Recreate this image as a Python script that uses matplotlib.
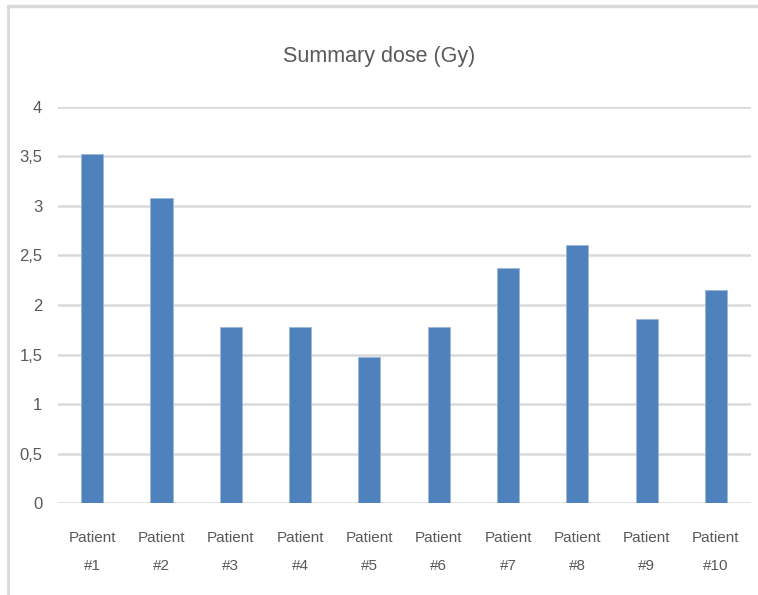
import matplotlib
matplotlib.use("Agg")
import matplotlib.pyplot as plt
from matplotlib.ticker import FuncFormatter, MultipleLocator
from matplotlib.lines import Line2D

plt.rcParams["font.family"] = ["Liberation Sans", "DejaVu Sans"]

PATIENTS = ["Patient\n#1", "Patient\n#2", "Patient\n#3", "Patient\n#4", "Patient\n#5",
            "Patient\n#6", "Patient\n#7", "Patient\n#8", "Patient\n#9", "Patient\n#10"]
DOSE_GY = [3.53, 3.08, 1.78, 1.78, 1.47, 1.78, 2.37, 2.61, 1.86, 2.15]

BAR_COLOR = "#4F81BD"
TEXT_COLOR = "#595959"
GRID_COLOR = "#D9D9D9"

fig = plt.figure(figsize=(7.58, 5.95), dpi=100)
ax = fig.add_axes([0.0759, 0.1546, 0.9143, 0.6656])

x = range(len(PATIENTS))
ax.bar(x, DOSE_GY, width=0.32, color=BAR_COLOR, edgecolor="#9DB7DA",
       linewidth=0.6, zorder=3)

ax.set_xlim(-0.5, len(PATIENTS) - 0.5)
ax.set_ylim(0, 4)
ax.yaxis.set_major_locator(MultipleLocator(0.5))
ax.yaxis.set_major_formatter(
    FuncFormatter(lambda v, _: f"{v:g}".replace(".", ",")))
ax.set_xticks(list(x))
ax.set_xticklabels(PATIENTS, linespacing=2.3)

ax.grid(True, axis="y", color=GRID_COLOR, linewidth=1.8, zorder=0)
for side in ("top", "right", "left", "bottom"):
    ax.spines[side].set_visible(False)
ax.tick_params(axis="both", length=0, colors=TEXT_COLOR)
ax.tick_params(axis="y", pad=11, labelsize=12)
ax.tick_params(axis="x", pad=20, labelsize=11)

fig.text(0.5, 0.905, "Summary dose (Gy)", ha="center", va="center",
         fontsize=15.5, color=TEXT_COLOR)

# light chart-area border along the top and left edges
fig.add_artist(Line2D([8 / 758, 1.0], [1 - 6 / 595, 1 - 6 / 595],
                      color=GRID_COLOR, linewidth=2.5))
fig.add_artist(Line2D([8 / 758, 8 / 758], [0, 1 - 6 / 595],
                      color=GRID_COLOR, linewidth=2.0))

fig.savefig("out.png", dpi=100)
